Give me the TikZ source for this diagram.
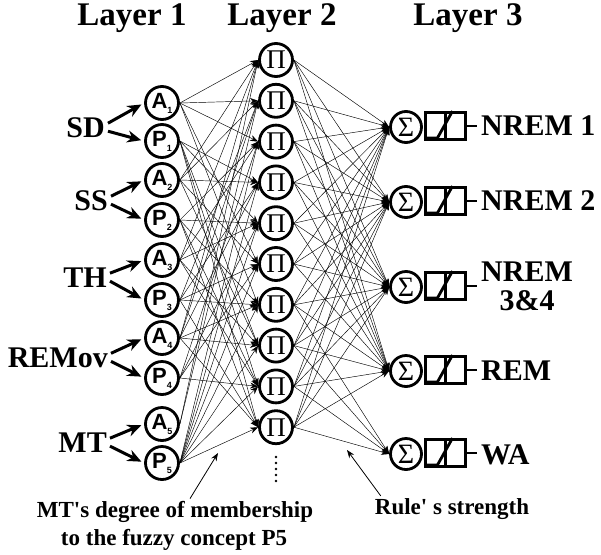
\documentclass[tikz,border=0pt]{standalone}
\usepackage{fontspec}
\setmainfont{Liberation Serif}
\newfontfamily\sansfam{Liberation Sans}
\usetikzlibrary{arrows.meta}

\newcommand\mflabel[2]{#1\raisebox{-5pt}{\fontsize{9}{9}\selectfont#2}}

\begin{document}
\begin{tikzpicture}[x=1pt,y=-1pt,
  big/.style={font=\fontsize{30}{30}\selectfont\bfseries, inner sep=0pt},
  title/.style={font=\fontsize{33}{33}\selectfont\bfseries, inner sep=0pt},
  note/.style={font=\fontsize{23}{28}\selectfont\bfseries, inner sep=0pt},
  mf/.style={circle, draw, line width=2.8pt, minimum size=33pt, inner sep=0pt,
    font=\sansfam\bfseries\fontsize{22}{22}\selectfont},
  rulenode/.style={circle, draw, line width=2.8pt, minimum size=33pt, inner sep=0pt,
    font=\fontsize{27}{27}\selectfont},
  sumnode/.style={circle, draw, line width=2.8pt, minimum size=31pt, inner sep=0pt,
    font=\fontsize{28}{28}\selectfont},
  actbox/.style={draw, line width=2.8pt, minimum width=40pt, minimum height=27pt, inner sep=0pt},
  thick line/.style={line width=2.8pt},
  feed/.style={line width=3pt, shorten >=3pt, -{Stealth[length=14pt,width=12pt]}},
  link/.style={line width=0.45pt, -{Stealth[length=8pt,width=6pt]}},
  pointer/.style={line width=0.8pt, -{Stealth[length=8pt,width=6pt]}}
]
\useasboundingbox (0,0) rectangle (601,554);

% layer titles
\node[title, anchor=base] (t1) at (132,25) {Layer 1};
\node[title, anchor=base] (t2) at (282,25) {Layer 2};
\node[title, anchor=base] (t3) at (468,25) {Layer 3};

% input variables
\node[big, anchor=base east] (sd) at (105,137) {SD};
\node[big, anchor=base east] (ss) at (108,210) {SS};
\node[big, anchor=base east] (th) at (107,287) {TH};
\node[big, anchor=base east] (rem) at (108,367) {REMov};
\node[big, anchor=base east] (mt) at (107,452) {MT};

% layer 1: membership functions
\node[mf] (a1) at (162,103) {\mflabel{A}{1}};
\node[mf] (p1) at (162,141) {\mflabel{P}{1}};
\node[mf] (a2) at (162,180) {\mflabel{A}{2}};
\node[mf] (p2) at (162,220) {\mflabel{P}{2}};
\node[mf] (a3) at (162,260) {\mflabel{A}{3}};
\node[mf] (p3) at (162,300) {\mflabel{P}{3}};
\node[mf] (a4) at (162,338) {\mflabel{A}{4}};
\node[mf] (p4) at (162,378) {\mflabel{P}{4}};
\node[mf] (a5) at (162,424) {\mflabel{A}{5}};
\node[mf] (p5) at (162,463) {\mflabel{P}{5}};

% input arrows
\foreach \v/\a/\p in {sd/a1/p1, ss/a2/p2, th/a3/p3, rem/a4/p4, mt/a5/p5} {
  \draw[feed] ([shift={(3pt,4pt)}]\v.east) -- (\a.west);
  \draw[feed] ([shift={(3pt,-4pt)}]\v.east) -- (\p.west);
}

% layer 2: rule nodes
\foreach \i in {1,...,10} {
  \node[rulenode] (r\i) at (276,{60+40.8*(\i-1)}) {Π};
}
\foreach \k in {0,...,4} {
  \fill (276,{457+6*\k}) circle (1.4pt);
}

% rule antecedents
\foreach \r/\a/\b/\c/\d/\e in {
  1/a1/a2/a3/a4/a5, 2/a1/a2/p3/a4/a5, 3/a1/p2/a3/p4/p5, 4/p1/a2/p3/a4/p5,
  5/p1/p2/a3/p4/p5, 6/a1/a2/p3/p4/p5, 7/a1/p2/p3/a4/p5, 8/p1/a2/a3/a4/p5,
  9/p1/p2/a3/p4/p5, 10/p1/p2/p3/a4/p5} {
  \foreach \s in {\a,\b,\c,\d,\e} {
    \draw[link] (\s.east) -- (r\r.west);
  }
}

% layer 3: summation and activation
\foreach \j/\y in {1/127, 2/202, 3/287, 4/371, 5/454} {
  \node[sumnode] (s\j) at (406,\y) {Σ};
  \node[actbox] (b\j) at (445.5,\y-1) {};
  \draw[thick line] (b\j.north) -- (b\j.south);
  \draw[thick line] ([shift={(2pt,3pt)}]b\j.south west) -- ([shift={(-8pt,3pt)}]b\j.south)
    -- ([xshift=7pt]b\j.north);
}

\node[big, anchor=west] (o1) at (481,126) {NREM 1};
\node[big, anchor=west] (o2) at (481,201) {NREM 2};
\node[big, anchor=west, align=center, font=\fontsize{30}{29}\selectfont\bfseries] (o3) at (481,286) {NREM\\3\&4};
\node[big, anchor=west] (o4) at (481,371) {REM};
\node[big, anchor=west] (o5) at (481,455) {WA};
\foreach \j in {1,...,5} {
  \draw[thick line, shorten >=4pt] (b\j.east) -- (b\j.east -| o\j.west);
}

% rule consequents
\foreach \i in {1,...,10} {
  \foreach \j in {1,...,4} {
    \draw[link] (r\i.east) -- (s\j.west);
  }
}
\foreach \i in {7,...,10} {
  \draw[link] (r\i.east) -- (s5.west);
}

% annotations
\node[note, anchor=base] (n1) at (175,517) {MT\textquotesingle s degree of membership};
\node[note, anchor=base] (n2) at (174,545) {to the fuzzy concept P5};
\node[note, anchor=base] (n3) at (452,514) {Rule\textquotesingle\ s strength};
\coordinate (m1) at (218,453);
\coordinate (m2) at (347,450);
\draw[pointer] ([xshift=15pt,yshift=2pt]n1.north) -- (m1);
\draw[pointer] ([xshift=6pt,yshift=2pt]n3.north west) -- (m2);
\end{tikzpicture}
\end{document}
